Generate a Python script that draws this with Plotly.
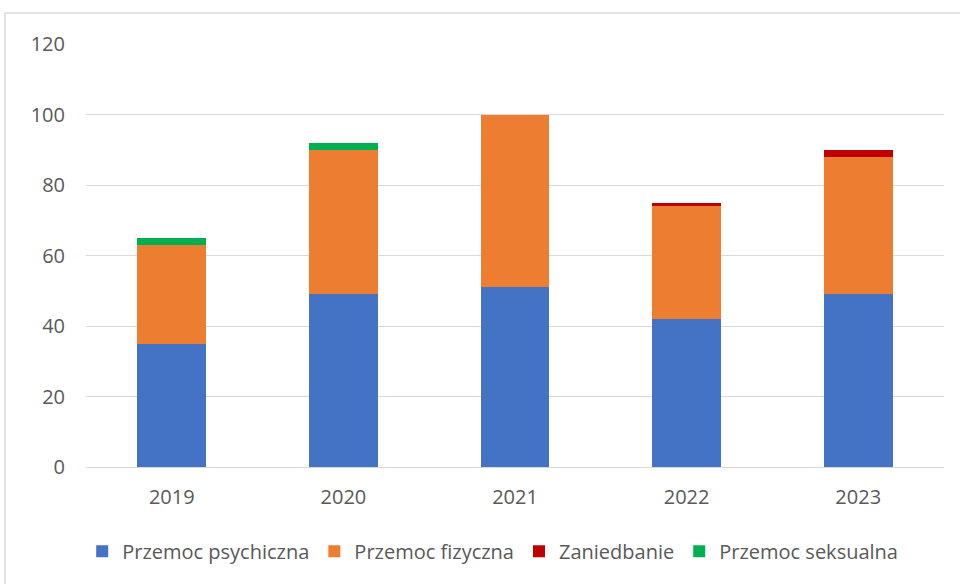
import plotly.graph_objects as go

years = ["2019", "2020", "2021", "2022", "2023"]
psychiczna = [35, 49, 51, 42, 49]
fizyczna = [28, 41, 49, 32, 39]
zaniedbanie = [0, 0, 0, 1, 2]
seksualna = [2, 2, 0, 0, 0]

series = [
    ("Przemoc psychiczna", psychiczna, "#4472C4"),
    ("Przemoc fizyczna", fizyczna, "#ED7D31"),
    ("Zaniedbanie", zaniedbanie, "#C00000"),
    ("Przemoc seksualna", seksualna, "#00B050"),
]

fig = go.Figure()
for name, vals, col in series:
    fig.add_trace(go.Bar(x=years, y=vals, name=name, marker=dict(color=col, line=dict(width=0))))

font = "Open Sans, Liberation Sans, sans-serif"
fig.update_layout(
    barmode="stack",
    bargap=0.6,
    width=960, height=584,
    margin=dict(l=86, r=16, t=44, b=117),
    plot_bgcolor="white", paper_bgcolor="white",
    font=dict(family=font, size=20, color="#595959"),
    xaxis=dict(showline=True, linecolor="#d9d9d9", linewidth=1, ticks="", ticklabelstandoff=12,
               tickfont=dict(size=20, color="#595959")),
    yaxis=dict(range=[0, 120], dtick=20, showgrid=True, gridcolor="#d9d9d9", gridwidth=1,
               zeroline=False, ticks="", ticklabelstandoff=20,
               tickfont=dict(size=20, color="#595959")),
    legend=dict(orientation="h", x=0.474, xanchor="center", y=-0.199, yanchor="middle",
                font=dict(size=20, color="#595959"), traceorder="normal", itemwidth=30),
    shapes=[dict(type="rect", xref="paper", yref="paper", x0=-0.0944, x1=1.05, y0=-0.4, y1=1.0733,
                 line=dict(color="#d9d9d9", width=1.5), fillcolor="rgba(0,0,0,0)", layer="below")],
    showlegend=True,
)
fig.write_html("out.html", config={"displayModeBar": False},
               post_script="document.body.style.margin='0';document.body.style.padding='0';")
